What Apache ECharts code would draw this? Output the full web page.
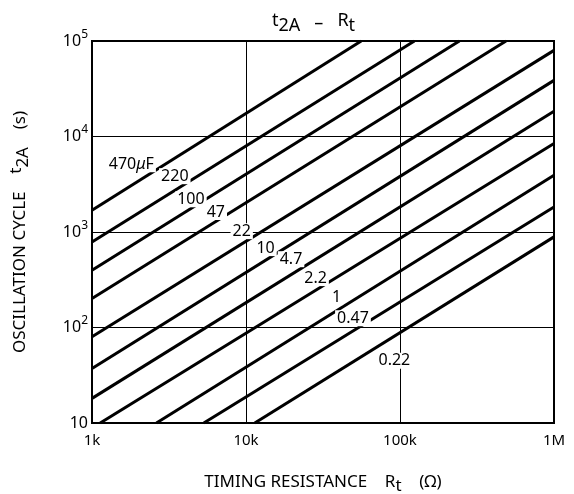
<!DOCTYPE html>
<html>
<head>
<meta charset="utf-8">
<script src="https://cdn.jsdelivr.net/npm/echarts@6/dist/echarts.min.js"></script>
<style>
html, body { margin: 0; padding: 0; background: #fff; }
#main { width: 574px; height: 494px; }
</style>
</head>
<body>
<div id="main"></div>
<script>
var chart = echarts.init(document.getElementById('main'));
var FONT = 'Noto Sans';

// capacitance of each line (label text)
var capLabels = ['470{mu|μ}F', '220', '100', '47', '22', '10', '4.7', '2.2', '1', '0.47', '0.22'];
// where each line enters the frame [R (ohm), t2A (s)]
var lineStart = [[1000, 1690], [1000, 787], [1000, 398], [1000, 201], [1000, 80], [1000, 37.3],
    [1000, 18.1], [1130, 10], [2620, 10], [5320, 10], [11400, 10]];
// where each line leaves the frame
var lineEnd = [[56000, 100000], [124000, 100000], [243000, 100000], [488000, 100000], [1000000, 79800],
    [1000000, 38700], [1000000, 18400], [1000000, 8430], [1000000, 3930], [1000000, 1830], [1000000, 889]];
// anchor of each capacitance label
var labelAt = [[1800, 5120], [3450, 3840], [4390, 2200], [6370, 1620], [9380, 1020], [13400, 678],
    [19600, 519], [28300, 329], [38700, 208], [49500, 125], [91900, 44.9]];

var xTicks = ['1k', '10k', '100k', '1M'];
var yTicks = ['10', '10{sup|2}', '10{sup|3}', '10{sup|4}', '10{sup|5}'];

var series = [];
for (var i = 0; i < capLabels.length; i++) {
    series.push({
        name: capLabels[i],
        type: 'line',
        data: [lineStart[i], lineEnd[i]],
        showSymbol: false,
        clip: true,
        lineStyle: { color: '#000', width: 3 },
        markPoint: {
            symbol: 'rect',
            symbolSize: 0,
            silent: true,
            data: [{ coord: labelAt[i] }],
            label: {
                show: true,
                position: 'inside',
                formatter: capLabels[i],
                color: '#000',
                fontFamily: FONT,
                fontSize: 16,
                backgroundColor: '#fff',
                padding: [0, 2],
                rich: {
                    mu: { fontFamily: FONT, fontSize: 16, fontStyle: 'italic', color: '#000' }
                }
            }
        }
    });
}

option = {
    animation: false,
    backgroundColor: '#fff',
    title: {
        text: '{t|t}{sub|2A}{m|   –   }{t|R}{sub|t}',
        left: 267,
        top: 2,
        textStyle: {
            fontWeight: 'normal',
            rich: {
                t: { fontFamily: FONT, fontSize: 18, fontWeight: 'normal', color: '#000' },
                sub: { fontFamily: FONT, fontSize: 18, fontWeight: 'normal', color: '#000', padding: [10, 0, 0, 0] },
                m: { fontFamily: FONT, fontSize: 18, fontWeight: 'normal', color: '#000', padding: [5, 0, 0, 0] }
            }
        }
    },
    grid: {
        left: 92,
        right: 20,
        top: 41,
        bottom: 71,
        show: true,
        borderColor: '#000',
        borderWidth: 2,
        containLabel: false,
        outerBoundsMode: 'none'
    },
    xAxis: {
        type: 'log',
        logBase: 10,
        min: 1000,
        max: 1000000,
        name: 'TIMING RESISTANCE    R{sub|t}    (Ω)',
        nameLocation: 'middle',
        nameGap: 46,
        nameTextStyle: {
            fontFamily: FONT,
            fontSize: 17,
            color: '#000',
            rich: {
                sub: { fontFamily: FONT, fontSize: 17, color: '#000', padding: [9, 0, 0, 0] }
            }
        },
        axisLine: { show: true, lineStyle: { color: '#000', width: 2 } },
        axisTick: { show: false },
        minorTick: { show: false },
        splitLine: { show: true, lineStyle: { color: '#000', width: 1 } },
        axisLabel: {
            color: '#000',
            fontFamily: FONT,
            fontSize: 15,
            margin: 10,
            formatter: function (v) {
                return xTicks[Math.round(Math.log10(v)) - 3];
            }
        }
    },
    yAxis: {
        type: 'log',
        logBase: 10,
        min: 10,
        max: 100000,
        name: 'OSCILLATION CYCLE    {sup|t}{t|2A}    (s)',
        nameLocation: 'middle',
        nameGap: 60,
        nameTextStyle: {
            fontFamily: FONT,
            fontSize: 17,
            color: '#000',
            rich: {
                sup: { fontFamily: FONT, fontSize: 17, color: '#000', padding: [0, 0, 7, 0] },
                t: { fontFamily: FONT, fontSize: 17, color: '#000', padding: [7, 0, 0, 0] }
            }
        },
        axisLine: { show: true, lineStyle: { color: '#000', width: 2 } },
        axisTick: { show: false },
        minorTick: { show: false },
        splitLine: { show: true, lineStyle: { color: '#000', width: 1 } },
        axisLabel: {
            color: '#000',
            fontFamily: FONT,
            fontSize: 16,
            margin: 4,
            formatter: function (v) {
                return yTicks[Math.round(Math.log10(v)) - 1];
            },
            rich: {
                sup: { fontFamily: FONT, fontSize: 12, color: '#000', padding: [0, 0, 13, 0] }
            }
        }
    },
    series: series
};

chart.setOption(option);
</script>
</body>
</html>
